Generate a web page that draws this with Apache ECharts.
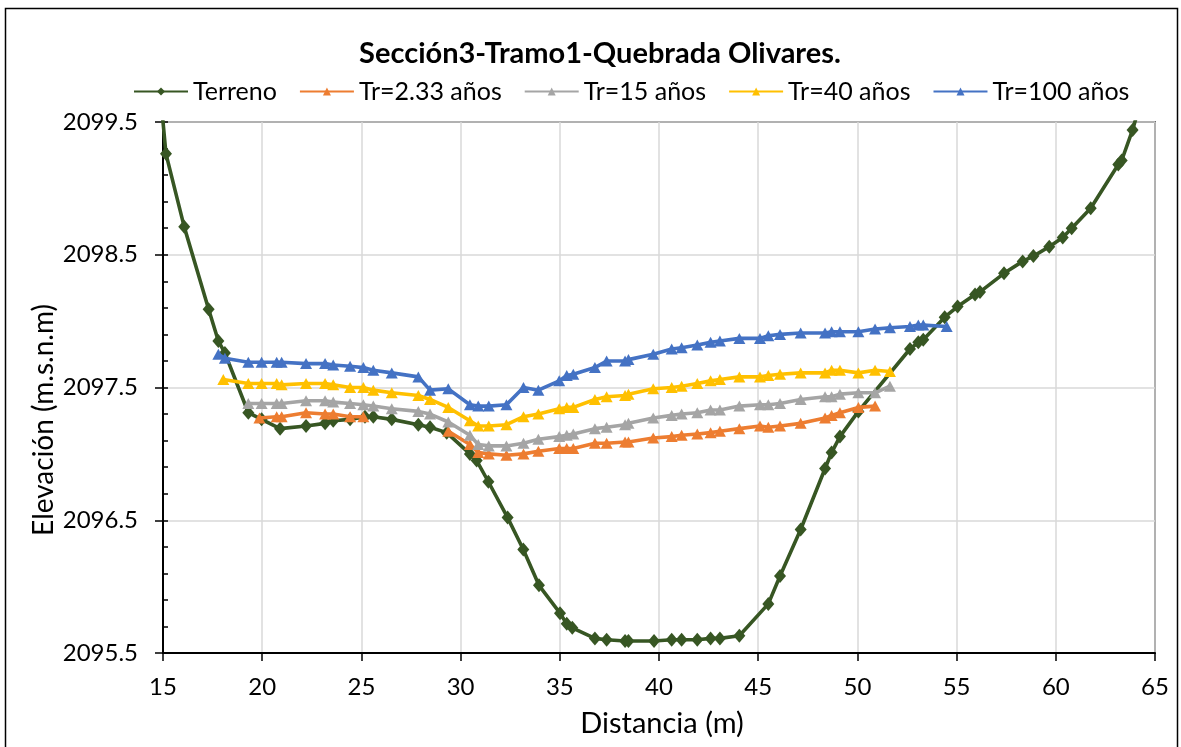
<!DOCTYPE html>
<html><head><meta charset="utf-8">
<script src="https://cdn.jsdelivr.net/npm/echarts@6/dist/echarts.min.js"></script>
<style>html,body{margin:0;padding:0;background:#fff}#c{width:1181px;height:747px}</style>
</head><body><div id="c"></div>
<script>
const seriesNames = ['Terreno', 'Tr=2.33 años', 'Tr=15 años', 'Tr=40 años', 'Tr=100 años'];

const terrenoX = [14.97, 15.15, 16.07, 17.30, 17.79, 18.12, 19.30, 19.97, 20.90, 22.21, 23.17, 23.58, 24.43, 25.18, 25.60, 26.53, 27.87, 28.46, 29.30, 30.47, 30.81, 31.40, 32.37, 33.16, 33.95, 35.01, 35.35, 35.63, 36.77, 37.36, 38.29, 38.46, 39.75, 40.64, 41.14, 41.93, 42.60, 43.07, 44.05, 45.51, 46.10, 47.14, 48.37, 48.70, 49.12, 50.05, 52.65, 53.07, 53.32, 54.40, 55.05, 55.93, 56.18, 57.39, 58.33, 58.87, 59.67, 60.35, 60.80, 61.76, 63.15, 63.32, 63.87, 64.10];
const terrenoY = [2099.55, 2099.26, 2098.71, 2098.09, 2097.85, 2097.76, 2097.31, 2097.26, 2097.19, 2097.21, 2097.23, 2097.25, 2097.26, 2097.28, 2097.28, 2097.26, 2097.22, 2097.20, 2097.16, 2097.00, 2096.95, 2096.79, 2096.52, 2096.28, 2096.01, 2095.80, 2095.72, 2095.69, 2095.61, 2095.60, 2095.59, 2095.59, 2095.59, 2095.60, 2095.60, 2095.60, 2095.61, 2095.61, 2095.63, 2095.87, 2096.08, 2096.43, 2096.89, 2097.01, 2097.13, 2097.32, 2097.79, 2097.84, 2097.86, 2098.03, 2098.11, 2098.20, 2098.22, 2098.36, 2098.45, 2098.49, 2098.56, 2098.63, 2098.70, 2098.85, 2099.18, 2099.21, 2099.44, 2099.56];

const tr233X = [19.86, 20.73, 20.98, 22.21, 23.17, 23.58, 24.43, 25.10, 27.00, 29.38, 30.47, 30.89, 31.42, 32.31, 33.17, 33.92, 34.97, 35.35, 35.68, 36.77, 37.36, 38.29, 38.46, 39.71, 40.64, 41.14, 41.93, 42.60, 43.07, 44.05, 45.09, 45.51, 46.10, 47.14, 48.37, 48.70, 49.12, 50.05, 50.89];
const tr233Y = [2097.27, 2097.28, 2097.28, 2097.31, 2097.30, 2097.30, 2097.28, 2097.28, null, 2097.17, 2097.07, 2097.01, 2097.00, 2096.99, 2097.00, 2097.02, 2097.04, 2097.04, 2097.04, 2097.08, 2097.08, 2097.09, 2097.09, 2097.12, 2097.13, 2097.14, 2097.15, 2097.16, 2097.17, 2097.19, 2097.21, 2097.20, 2097.21, 2097.23, 2097.27, 2097.29, 2097.31, 2097.35, 2097.36];

const tr15X = [19.30, 19.97, 20.73, 20.98, 22.21, 23.17, 23.58, 24.43, 25.10, 25.60, 26.53, 27.87, 28.46, 29.38, 30.47, 30.89, 31.42, 32.31, 33.17, 33.92, 34.97, 35.35, 35.68, 36.77, 37.36, 38.29, 38.46, 39.71, 40.64, 41.14, 41.93, 42.60, 43.07, 44.05, 45.09, 45.51, 46.10, 47.14, 48.37, 48.70, 49.12, 50.05, 50.89, 51.64];
const tr15Y = [2097.38, 2097.38, 2097.38, 2097.38, 2097.40, 2097.40, 2097.39, 2097.38, 2097.37, 2097.36, 2097.34, 2097.32, 2097.30, 2097.24, 2097.14, 2097.07, 2097.06, 2097.06, 2097.08, 2097.11, 2097.13, 2097.14, 2097.15, 2097.19, 2097.20, 2097.22, 2097.23, 2097.27, 2097.29, 2097.30, 2097.31, 2097.33, 2097.33, 2097.36, 2097.37, 2097.37, 2097.38, 2097.41, 2097.43, 2097.43, 2097.45, 2097.46, 2097.46, 2097.51];

const tr40X = [18.04, 19.30, 19.97, 20.73, 20.98, 22.21, 23.17, 23.58, 24.43, 25.10, 25.60, 26.53, 27.87, 28.46, 29.38, 30.47, 30.89, 31.42, 32.31, 33.17, 33.92, 34.97, 35.35, 35.68, 36.77, 37.36, 38.29, 38.46, 39.71, 40.64, 41.14, 41.93, 42.60, 43.07, 44.05, 45.09, 45.51, 46.10, 47.14, 48.37, 48.70, 49.12, 50.05, 50.89, 51.64];
const tr40Y = [2097.56, 2097.53, 2097.53, 2097.53, 2097.52, 2097.53, 2097.53, 2097.52, 2097.50, 2097.50, 2097.48, 2097.46, 2097.44, 2097.41, 2097.35, 2097.25, 2097.21, 2097.21, 2097.22, 2097.28, 2097.30, 2097.34, 2097.35, 2097.35, 2097.41, 2097.43, 2097.44, 2097.45, 2097.49, 2097.50, 2097.51, 2097.53, 2097.55, 2097.56, 2097.58, 2097.58, 2097.59, 2097.60, 2097.61, 2097.61, 2097.63, 2097.63, 2097.61, 2097.63, 2097.62];

const tr100X = [17.79, 18.12, 19.30, 19.97, 20.73, 20.98, 22.21, 23.17, 23.58, 24.43, 25.10, 25.60, 26.53, 27.87, 28.46, 29.38, 30.47, 30.89, 31.42, 32.31, 33.17, 33.92, 34.97, 35.35, 35.68, 36.77, 37.36, 38.29, 38.46, 39.71, 40.64, 41.14, 41.93, 42.60, 43.07, 44.05, 45.09, 45.51, 46.10, 47.14, 48.37, 48.70, 49.12, 50.05, 50.89, 51.64, 52.65, 53.07, 53.32, 54.50];
const tr100Y = [2097.75, 2097.72, 2097.69, 2097.69, 2097.69, 2097.69, 2097.68, 2097.68, 2097.67, 2097.66, 2097.65, 2097.63, 2097.61, 2097.58, 2097.48, 2097.49, 2097.37, 2097.36, 2097.36, 2097.37, 2097.50, 2097.48, 2097.55, 2097.59, 2097.60, 2097.65, 2097.70, 2097.70, 2097.71, 2097.75, 2097.79, 2097.80, 2097.82, 2097.84, 2097.85, 2097.87, 2097.87, 2097.89, 2097.90, 2097.91, 2097.91, 2097.92, 2097.92, 2097.92, 2097.94, 2097.95, 2097.96, 2097.97, 2097.97, 2097.96];

const xTicks = [15, 20, 25, 30, 35, 40, 45, 50, 55, 60, 65];
const yTicks = [2095.5, 2096.5, 2097.5, 2098.5, 2099.5];
const chartTitle = 'Sección3-Tramo1-Quebrada Olivares.';
const xTitle = 'Distancia (m)';
const yTitle = 'Elevación (m.s.n.m)';

function zip(xs, ys) { return xs.map((x, i) => [x, ys[i]]); }

const FONT = 'Lato';
const colors = ['#375623', '#ED7D31', '#A5A5A5', '#FFC000', '#4472C4'];
const xs = [terrenoX, tr233X, tr15X, tr40X, tr100X];
const ys = [terrenoY, tr233Y, tr15Y, tr40Y, tr100Y];

const series = seriesNames.map((name, i) => ({
  name: name,
  type: 'line',
  data: zip(xs[i], ys[i]),
  connectNulls: false,
  clip: true,
  symbol: i === 0 ? 'diamond' : 'triangle',
  symbolSize: i === 0 ? [12, 14] : [12, 11],
  lineStyle: { color: colors[i], width: 3.6 },
  itemStyle: { color: colors[i] },
  emphasis: { disabled: true },
  animation: false,
  z: 2 + i
}));

const chart = echarts.init(document.getElementById('c'), null, { renderer: 'canvas' });
chart.setOption({
  animation: false,
  backgroundColor: '#fff',
  title: {
    text: chartTitle,
    left: 595, top: 34, textAlign: 'center',
    textStyle: { fontFamily: FONT, fontSize: 29, fontWeight: 'bold', color: '#000' }
  },
  legend: {
    left: 128, top: 74,
    itemWidth: 54, itemHeight: 10, itemGap: 22,
    textStyle: { fontFamily: FONT, fontSize: 25, color: '#000' },
    data: seriesNames
  },
  grid: { left: 163, top: 122, right: 26, bottom: 94, show: true, borderColor: '#000', borderWidth: 1.5, backgroundColor: 'transparent' },
  xAxis: {
    type: 'value', min: 15, max: 65, interval: 5,
    axisLine: { show: true, onZero: false, lineStyle: { color: '#000', width: 2 } },
    axisTick: { show: true, length: 8, lineStyle: { color: '#000', width: 1.5 } },
    axisLabel: { fontFamily: FONT, fontSize: 24, color: '#000', margin: 22, formatter: v => xTicks.includes(v) ? String(v) : '' },
    splitLine: { show: true, lineStyle: { color: '#D9D9D9', width: 1.5 } }
  },
  yAxis: [{
    type: 'value', min: 2095.5, max: 2099.5, interval: 1,
    axisLine: { show: true, onZero: false, lineStyle: { color: '#000', width: 2 } },
    axisTick: { show: true, length: 8, lineStyle: { color: '#000', width: 1.5 } },
    axisLabel: { fontFamily: FONT, fontSize: 24, color: '#000', margin: 25, formatter: v => { const t = yTicks.find(k => Math.abs(k - v) < 1e-6); return t === undefined ? '' : t.toFixed(1); } },
    splitLine: { show: true, lineStyle: { color: '#D9D9D9', width: 1.5 } }
  }, {
    type: 'value', min: 2095.5, max: 2099.5, interval: 0.2, position: 'left', offset: 0,
    axisLine: { show: false },
    axisTick: { show: true, inside: true, length: 5, lineStyle: { color: '#000', width: 1.5 } },
    axisLabel: { show: false },
    splitLine: { show: false }
  }],
  graphic: [{
    type: 'rect', silent: true, z: -1,
    shape: { x: 5.5, y: 8.5, width: 1172, height: 760 },
    style: { fill: 'none', stroke: '#000', lineWidth: 1.5 }
  }, {
    type: 'text', silent: true,
    x: 662, y: 724,
    style: { text: xTitle, fontFamily: FONT, fontSize: 29, fill: '#000', align: 'center', verticalAlign: 'middle' }
  }, {
    type: 'text', silent: true,
    x: 44, y: 420, rotation: Math.PI / 2,
    style: { text: yTitle, fontFamily: FONT, fontSize: 28, fill: '#000', align: 'center', verticalAlign: 'middle' }
  }],
  series: series
});
</script></body></html>
